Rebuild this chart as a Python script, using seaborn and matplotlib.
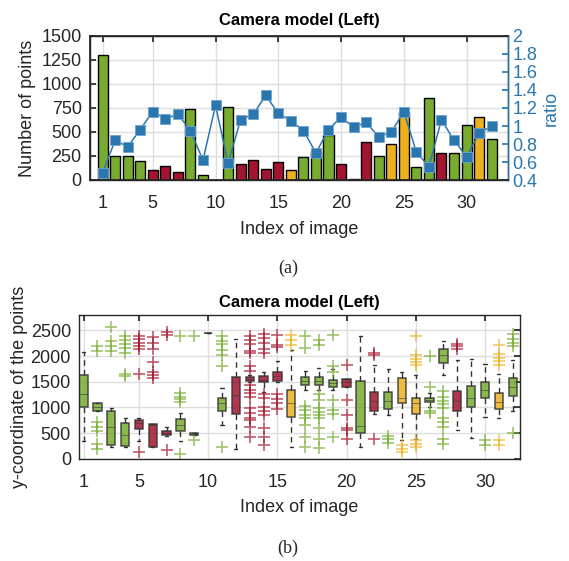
import numpy as np
import pandas as pd
import matplotlib
matplotlib.use('Agg')
import matplotlib.pyplot as plt
from matplotlib.ticker import FormatStrFormatter
import seaborn as sns

# ---------------- data ----------------
image_index = list(range(1, 33))
num_points = [1300, 253, 247, 198, 104, 142, 83, 740, 49, 4, 760, 170, 205, 111,
              184, 108, 243, 300, 469, 163, 8, 396, 247, 379, 708, 139, 851, 285,
              278, 570, 653, 427]
point_group = ['G', 'G', 'G', 'G', 'R', 'R', 'R', 'G', 'G', 'G', 'G', 'R', 'R', 'R',
               'R', 'Y', 'G', 'G', 'G', 'R', 'G', 'R', 'G', 'Y', 'Y', 'G', 'G', 'R',
               'G', 'G', 'Y', 'G']
ratio = [0.48, 0.84, 0.77, 0.96, 1.16, 1.08, 1.13, 0.95, 0.62, 1.23, 0.585, 1.07,
         1.13, 1.34, 1.14, 1.06, 0.95, 0.70, 0.96, 1.10, 0.985, 1.04, 0.88, 0.93,
         1.16, 0.71, 0.55, 1.07, 0.84, 0.66, 0.92, 1.00]

box_q1 = [1000, 935, 275, 242, 575, 235, 458, 536, 458, 2459, 935, 863, 1517, 1485,
          1517, 804, 1439, 1439, 1406, 1400, 510, 929, 968, 1079, 870, 1099, 1864,
          929, 1014, 1177, 961, 1223]
box_med = [1262, 1014, 621, 471, 690, 655, 504, 654, 477, 2459, 1079, 1243, 1550,
           1537, 1602, 1079, 1517, 1517, 1472, 1485, 634, 1125, 1125, 1190, 1079,
           1138, 2014, 1125, 1177, 1341, 1112, 1406]
box_q3 = [1622, 1092, 929, 687, 752, 680, 549, 765, 504, 2459, 1177, 1583, 1589,
          1602, 1681, 1341, 1583, 1589, 1530, 1557, 1517, 1301, 1301, 1570, 1190,
          1177, 2145, 1328, 1426, 1491, 1288, 1570]
box_wlo = [347, 935, 229, 229, 347, 235, 438, 347, 458, 2459, 654, 196, 1500, 1308,
           1500, 229, 1341, 1341, 1341, 1400, 229, 880, 850, 360, 392, 1014, 1635,
           556, 405, 811, 798, 935]
box_whi = [2086, 1092, 994, 791, 785, 680, 621, 883, 504, 2459, 1373, 2335, 1622,
           1681, 1897, 2120, 1700, 1766, 1753, 1557, 2387, 1831, 1746, 1687, 1640,
           1275, 2289, 1916, 1949, 1844, 1655, 1916]
box_outliers = [
    [],
    [2204, 2093, 720, 621, 536, 294, 196],
    [2570, 2302, 2204, 2106],
    [2400, 2310, 2230, 2150, 2060, 1660, 1610],
    [2400, 2330, 2260, 2200, 2140, 1650, 140],
    [2374, 2250, 2132, 1884, 1687, 1622, 1570],
    [2466, 2420, 177],
    [2387, 1275, 1210, 1164, 1112, 98],
    [2400, 373],
    [],
    [2400, 2289, 2243, 2126, 2027, 1798, 229],
    [],
    [2400, 2322, 2243, 2106, 2060, 1798, 1700, 1439, 1341, 1275, 1210, 981, 883,
     798, 752, 621, 425],
    [2439, 2354, 2256, 2139, 2060, 1256, 1190, 1014, 929, 850, 602, 425, 262],
    [2420, 2224, 2178, 1256, 1164, 1079, 968],
    [2420, 2322, 2224],
    [2387, 2158, 1027, 948, 850, 785, 654, 425, 229],
    [2308, 2210, 1256, 1145, 981, 916, 850, 785, 602, 392, 209],
    [2407, 1798, 1681, 1145, 948, 870, 425],
    [1831, 1145, 850, 589, 560, 392],
    [],
    [2060, 2027, 392],
    [438, 379, 314],
    [275, 196, 131],
    [2400, 2027, 1950, 1880, 1830, 373, 294, 229],
    [2008, 1406, 935, 896],
    [1328, 1197, 1131, 1066, 981, 798, 719, 621, 392, 294],
    [2237, 2191, 2145],
    [],
    [360, 262],
    [2224, 2040, 1962, 1897, 1818, 360, 262],
    [2433, 2335, 2256, 2191, 510],
]

x_ticks = [1, 5, 10, 15, 20, 25, 30]
left_ticks = [0, 250, 500, 750, 1000, 1250, 1500]
ratio_ticks = [0.4, 0.6, 0.8, 1.0, 1.2, 1.4, 1.6, 1.8, 2.0]
box_yticks = [0, 500, 1000, 1500, 2000, 2500]

# ---------------- style ----------------
sns.set_theme(style='white')
plt.rcParams['font.family'] = ['Liberation Sans', 'DejaVu Sans']
palette = {'G': '#77AC30', 'R': '#A2142F', 'Y': '#EDB120'}
blue = '#2a77b0'
dark = '#262626'
gridc = '#dedede'
FS = 13

fig = plt.figure(figsize=(5.69, 5.61), dpi=100)

# ---------------- (a) ----------------
ax1 = fig.add_axes([90 / 569, 1 - 180 / 561, 418 / 569, 144 / 561])
df = pd.DataFrame({'idx': image_index, 'n': num_points, 'grp': point_group})
sns.barplot(data=df, x='idx', y='n', hue='grp', palette=palette, native_scale=True,
            dodge=False, width=0.8, saturation=1, edgecolor='black', linewidth=1.0,
            legend=False, ax=ax1)
ax1.set_xlim(0, 33.3)
ax1.set_ylim(0, 1500)
ax1.set_xticks(x_ticks)
ax1.set_yticks(left_ticks)
ax1.set_axisbelow(True)
ax1.grid(True, color=gridc, linewidth=1)
ax1.tick_params(direction='in', length=4, labelsize=FS, colors=dark, top=True,
                right=False)
ax1.tick_params(axis='x', pad=11)
ax1.tick_params(axis='y', pad=6)
ax1.set_xlabel('Index of image', fontsize=FS, color=dark, labelpad=6)
ax1.set_ylabel('Number of points', fontsize=FS, color=dark, labelpad=4)
ax1.set_title('Camera model (Left)', fontsize=12, fontweight='bold', color='black', pad=8)
for s in ax1.spines.values():
    s.set_color(dark)
    s.set_linewidth(1)

ax2 = ax1.twinx()
sns.lineplot(x=image_index, y=ratio, marker='s', color=blue, markersize=6.5,
             markeredgecolor='#6fa3cc', markeredgewidth=0.6, linewidth=1.1, ax=ax2)
ax2.set_ylim(0.4, 2.0)
ax2.set_yticks(ratio_ticks)
ax2.yaxis.set_major_formatter(FormatStrFormatter('%g'))
ax2.tick_params(axis='y', direction='in', length=4, labelsize=FS, colors=blue, pad=3)
ax2.set_ylabel('ratio', fontsize=FS, color=blue, labelpad=4)
ax2.spines['right'].set_color(blue)
ax2.spines['right'].set_linewidth(1)
ax2.grid(False)

fig.text(288 / 569, 1 - 268 / 561, '(a)', fontsize=13, ha='center', va='center',
         family=['Liberation Serif', 'DejaVu Serif'])

# ---------------- (b) ----------------
ax3 = fig.add_axes([79.3 / 569, 1 - 458.7 / 561, 440.7 / 569, 143.7 / 561])
stats = []
for i in range(len(image_index)):
    stats.append(dict(med=box_med[i], q1=box_q1[i], q3=box_q3[i],
                      whislo=box_wlo[i], whishi=box_whi[i],
                      fliers=box_outliers[i]))
bp = ax3.bxp(stats, positions=image_index, widths=0.6, patch_artist=True,
             capwidths=0.22, showfliers=True)
for i, g in enumerate(point_group):
    c = palette[g]
    box = bp['boxes'][i]
    box.set_facecolor(c)
    box.set_alpha(0.85)
    box.set_edgecolor('#333333')
    box.set_linewidth(1.1)
    med = bp['medians'][i]
    med.set_color('#3a3a3a')
    med.set_linewidth(0.7)
    med.set_alpha(0.6)
    for w in bp['whiskers'][2 * i:2 * i + 2]:
        w.set_color('#333333')
        w.set_linestyle((0, (4, 3)))
        w.set_linewidth(1.0)
    for cp in bp['caps'][2 * i:2 * i + 2]:
        cp.set_color('#333333')
        cp.set_linewidth(1.0)
    fl = bp['fliers'][i]
    fl.set_marker('+')
    fl.set_markersize(8)
    fl.set_markeredgewidth(1.2)
    fl.set_markeredgecolor(c)
    fl.set_alpha(0.7)
# degenerate box 10 shown as black line
bp['boxes'][9].set_edgecolor('#222222')

ax3.set_xlim(0.69, 32.53)
ax3.set_ylim(0, 2800)
ax3.set_xticks(x_ticks)
ax3.set_xticklabels([str(t) for t in x_ticks])
ax3.set_yticks(box_yticks)
ax3.set_axisbelow(True)
ax3.grid(True, color=gridc, linewidth=1)
ax3.tick_params(direction='in', length=4, labelsize=FS, colors=dark, top=True,
                right=True)
ax3.tick_params(axis='x', pad=11)
ax3.tick_params(axis='y', pad=6)
ax3.set_xlabel('Index of image', fontsize=FS, color=dark, labelpad=6)
ax3.set_ylabel('y-coordinate of the points', fontsize=FS, color=dark, labelpad=2)
ax3.set_title('Camera model (Left)', fontsize=12, fontweight='bold', color='black', pad=6)
for s in ax3.spines.values():
    s.set_color(dark)
    s.set_linewidth(1)

fig.text(288 / 569, 1 - 548 / 561, '(b)', fontsize=13, ha='center', va='center',
         family=['Liberation Serif', 'DejaVu Serif'])

fig.savefig('out.png', dpi=100, facecolor='white')
